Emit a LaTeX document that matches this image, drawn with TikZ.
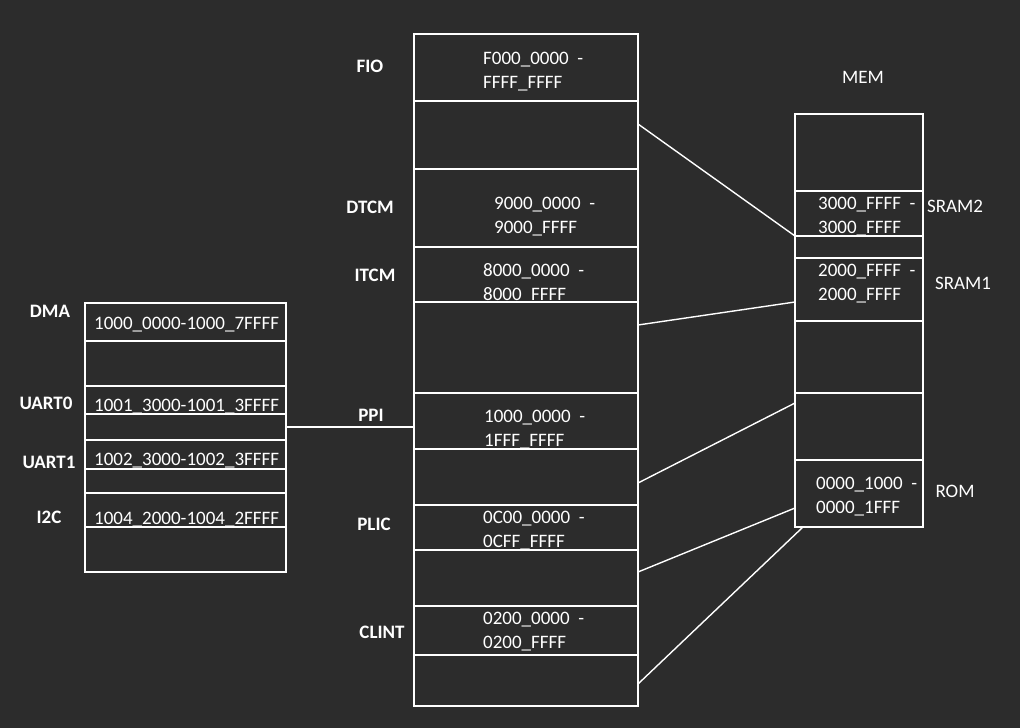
\documentclass[tikz,border=0pt]{standalone}
\usepackage{fontspec}
\setmainfont{Carlito}
\usetikzlibrary{positioning}

\definecolor{bgdark}{RGB}{44,44,44}

\begin{document}
\begin{tikzpicture}[x=1pt, y=-1pt,
    cell/.style={rectangle, draw=white, line width=1.4pt, outer sep=0pt, inner sep=0pt, anchor=north},
    midcell/.style={cell, minimum width=224pt},
    memcell/.style={cell, minimum width=128pt},
    devcell/.style={cell, minimum width=201pt},
    addr/.style={text=white, font=\fontsize{19}{24}\selectfont, inner sep=0pt, align=left, anchor=west, yshift=-2.5pt},
    tag/.style={text=white, font=\fontsize{19}{24}\selectfont\bfseries, inner sep=0pt},
    memtag/.style={text=white, font=\fontsize{19}{24}\selectfont, inner sep=0pt},
    wire/.style={draw=white, line width=1.4pt}
]

\fill[bgdark] (0,0) rectangle (1020,728);
\useasboundingbox (0,0) rectangle (1020,728);

% address map of the core
\coordinate (mtop) at (526,34);
\node [midcell, minimum height=67pt, below=0pt of mtop] (m1) {};
\node [midcell, minimum height=68pt, below=0pt of m1] (m2) {};
\node [midcell, minimum height=78pt, below=0pt of m2] (m3) {};
\node [midcell, minimum height=55pt, below=0pt of m3] (m4) {};
\node [midcell, minimum height=91pt, below=0pt of m4] (m5) {};
\node [midcell, minimum height=56pt, below=0pt of m5] (m6) {};
\node [midcell, minimum height=56pt, below=0pt of m6] (m7) {};
\node [midcell, minimum height=45pt, below=0pt of m7] (m8) {};
\node [midcell, minimum height=56pt, below=0pt of m8] (m9) {};
\node [midcell, minimum height=49pt, below=0pt of m9] (m10) {};
\node [midcell, minimum height=51pt, below=0pt of m10] (m11) {};

\node [addr] (a-fio)   at (483,69)    {F000\_0000~~-\\FFFF\_FFFF};
\node [addr] (a-dtcm)  at (494,214)   {9000\_0000~~-\\9000\_FFFF};
\node [addr] (a-itcm)  at (483,281)   {8000\_0000~~-\\8000\_FFFF};
\node [addr] (a-ppi)   at (484,427.5) {1000\_0000~~-\\1FFF\_FFFF};
\node [addr] (a-plic)  at (483,528.5) {0C00\_0000~~-\\0CFF\_FFFF};
\node [addr] (a-clint) at (483,629.5) {0200\_0000~~-\\0200\_FFFF};

\node [tag] (t-fio)   at (370,66)  {FIO};
\node [tag] (t-dtcm)  at (370,207) {DTCM};
\node [tag] (t-itcm)  at (375,275) {ITCM};
\node [tag] (t-ppi)   at (371,415) {PPI};
\node [tag] (t-plic)  at (374,524) {PLIC};
\node [tag] (t-clint) at (382,632) {CLINT};

% memory
\node [memtag] (t-mem) at (863,77) {MEM};
\coordinate (rtop) at (859,114);
\node [memcell, minimum height=77pt, below=0pt of rtop] (r1) {};
\node [memcell, minimum height=45pt, below=0pt of r1] (r2) {};
\node [memcell, minimum height=22pt, below=0pt of r2] (r3) {};
\node [memcell, minimum height=63pt, below=0pt of r3] (r4) {};
\node [memcell, minimum height=72pt, below=0pt of r4] (r5) {};
\node [memcell, minimum height=67pt, below=0pt of r5] (r6) {};
\node [memcell, minimum height=67pt, below=0pt of r6] (r7) {};

\node [addr] (a-sram2) at (818,214.5) {3000\_FFFF~~-\\3000\_FFFF};
\node [addr] (a-sram1) at (818,281.5) {2000\_FFFF~~-\\2000\_FFFF};
\node [addr] (a-rom)   at (816,494.5) {0000\_1000~~-\\0000\_1FFF};

\node [memtag] (t-sram2) at (955,206) {SRAM2};
\node [memtag] (t-sram1) at (963,283) {SRAM1};
\node [memtag] (t-rom)   at (955,491) {ROM};

% peripherals
\coordinate (ltop) at (185.5,303);
\node [devcell, minimum height=38pt, below=0pt of ltop] (l1) {};
\node [devcell, minimum height=45pt, below=0pt of l1] (l2) {};
\node [devcell, minimum height=28pt, below=0pt of l2] (l3) {};
\node [devcell, minimum height=26pt, below=0pt of l3] (l4) {};
\node [devcell, minimum height=29pt, below=0pt of l4] (l5) {};
\node [devcell, minimum height=24pt, below=0pt of l5] (l6) {};
\node [devcell, minimum height=34pt, below=0pt of l6] (l7) {};
\node [devcell, minimum height=45pt, below=0pt of l7] (l8) {};

\node [addr] (a-dma)   at (94,322) {1000\_0000-1000\_7FFFF};
\node [addr] (a-uart0) at (94,404) {1001\_3000-1001\_3FFFF};
\node [addr] (a-uart1) at (94,458) {1002\_3000-1002\_3FFFF};
\node [addr] (a-i2c)   at (94,517) {1004\_2000-1004\_2FFFF};

\node [tag] (t-dma)   at (50,311) {DMA};
\node [tag] (t-uart0) at (46,403) {UART0};
\node [tag] (t-uart1) at (49,462) {UART1};
\node [tag] (t-i2c)   at (49,517) {I2C};

% connections
\draw [wire] (l4.east) -- (l4.east -| m6.west);
\draw [wire] ([yshift=11pt]m2.east) -- (r3.north west);
\draw [wire] ([yshift=22.5pt]m5.east) -- ([yshift=-12.5pt]r4.west);
\draw [wire] ([yshift=-6pt]m7.east) -- ([yshift=23.5pt]r6.west);
\draw [wire] ([yshift=6pt]m9.east) -- ([yshift=-14.5pt]r7.west);
\draw [wire] ([yshift=-3.5pt]m11.east) -- ([xshift=8pt]r7.south west);

\end{tikzpicture}
\end{document}
